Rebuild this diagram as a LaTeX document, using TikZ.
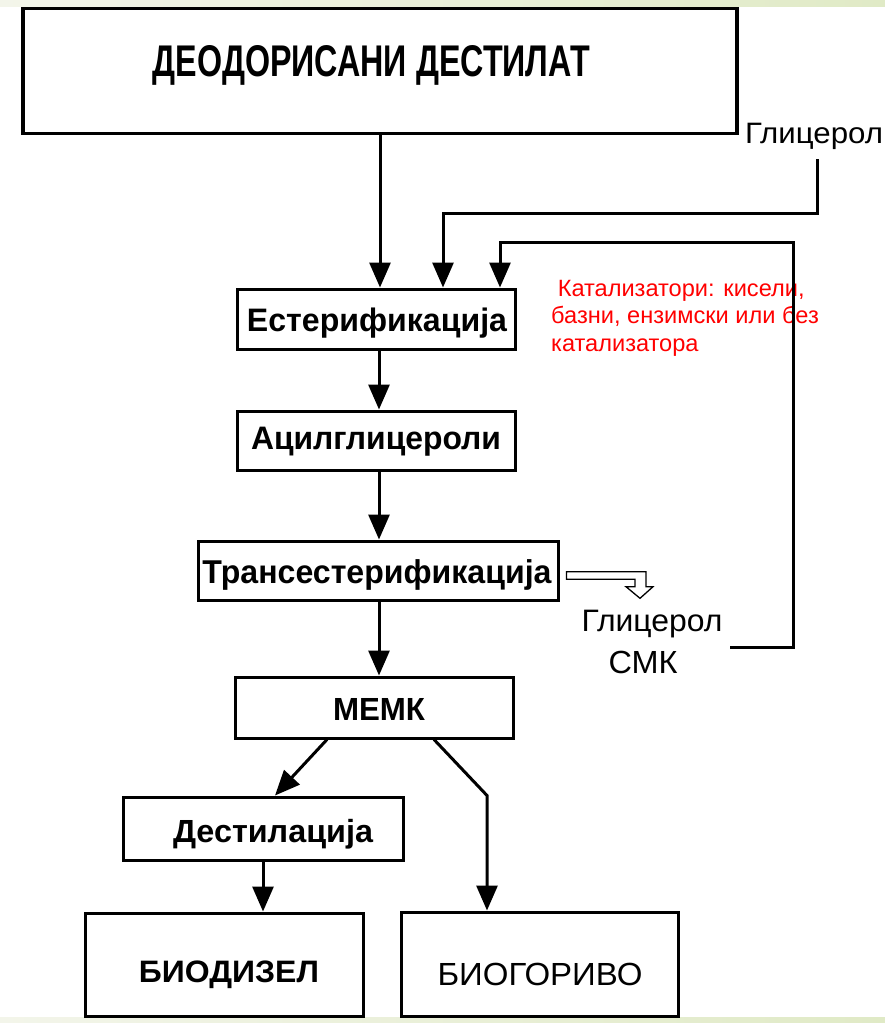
\documentclass[tikz,border=0pt]{standalone}
\usepackage{fontspec}
\setmainfont{Liberation Sans}
\usepackage{graphicx}
\usetikzlibrary{arrows.meta,calc}

\definecolor{bandL}{RGB}{243,245,234}
\definecolor{bandR}{RGB}{224,234,198}
\definecolor{catred}{RGB}{255,0,0}

% set a text to a given width and cap height
\newcommand{\fitto}[3]{\resizebox{#1}{#2}{#3}}
% set a text at a font size, then bring it to a given width
\newcommand{\wfit}[3]{{\fontsize{#2}{#2}\selectfont\resizebox{#1}{\height}{#3}}}

\begin{document}
\begin{tikzpicture}[x=1pt,y=-1pt,
  box/.style={draw=black, line width=3pt, fill=white, rectangle, inner sep=0pt},
  lbl/.style={inner sep=0pt, anchor=base},
  redline/.style={inner sep=0pt, anchor=base west, text=catred,
    font=\fontsize{23.6pt}{28pt}\selectfont},
  arr/.style={line width=3pt, -{Triangle[length=25pt,width=21pt]}},
  feed/.style={line width=3pt},
]
\useasboundingbox (0,0) rectangle (885,1023);
\fill[white] (0,0) rectangle (885,1023);
% decorative bands
\fill[left color=bandL,right color=bandR] (0,0) rectangle (885,6);
\fill[left color=bandL,right color=bandR] (0,1017) rectangle (885,1023);

% process boxes
\node[box, line width=3.5pt, minimum width=714pt, minimum height=125pt] (top) at (380,71) {};
\node[box, minimum width=278pt, minimum height=60pt] (est) at (376,319) {};
\node[box, minimum width=278pt, minimum height=59pt] (acyl) at (376,440.5) {};
\node[box, minimum width=360pt, minimum height=59pt] (trans) at (378,570.5) {};
\node[box, minimum width=278pt, minimum height=61pt] (memk) at (374,707.5) {};
\node[box, minimum width=280pt, minimum height=63pt] (dest) at (263,828.5) {};
\node[box, minimum width=278pt, minimum height=103pt] (biod) at (224,964.5) {};
\node[box, minimum width=277pt, minimum height=104pt] (biog) at (539.5,964) {};

% box texts
\node[lbl] (tTop) at (371.5,76) {\fitto{437pt}{31pt}{\bfseries ДЕОДОРИСАНИ ДЕСТИЛАТ}};
\node[lbl] (tEst) at (377,331) {\wfit{260pt}{32.5pt}{\bfseries Естерификација}};
\node[lbl] (tAcyl) at (376,449) {\wfit{250pt}{32.5pt}{\bfseries Ацилглицероли}};
\node[lbl] (tTrans) at (377,583) {\wfit{349pt}{33pt}{\bfseries Трансестерификација}};
\node[lbl] (tMemk) at (379,720) {\wfit{92pt}{32pt}{\bfseries МЕМК}};
\node[lbl] (tDest) at (273,842) {\wfit{200pt}{32pt}{\bfseries Дестилација}};
\node[lbl] (tBiod) at (229,982) {\wfit{180pt}{31pt}{\bfseries БИОДИЗЕЛ}};
\node[lbl] (tBiog) at (540,985) {\wfit{205pt}{32pt}{БИОГОРИВО}};

% side labels
\node[lbl] (gTop) at (814,143.5) {\wfit{138pt}{29.5pt}{Глицерол}};
\node[lbl] (gLow) at (652,631) {\wfit{141pt}{31pt}{Глицерол}};
\node[lbl] (smk) at (643,673) {\wfit{69pt}{32pt}{СМК}};

% catalyst note
\node[redline] (cat1) at (551,296) {\ Катализатори: кисели,};
\node[redline] (cat2) at (551,323.5) {базни, ензимски или без};
\node[redline] (cat3) at (551,351) {катализатора};

% main flow
\coordinate (spine) at (379,0);
\draw[arr] (top.south) -- (top.south |- est.north);
\draw[arr] (est.south -| spine) -- (acyl.north -| spine);
\draw[arr] (acyl.south -| spine) -- (trans.north -| spine);
\draw[arr] (trans.south -| spine) -- (memk.north -| spine);
\draw[arr] ([xshift=-47pt]memk.south) -- ([xshift=12pt]dest.north);
\draw[arr] ([xshift=60pt]memk.south) -- ([xshift=-52.5pt]biog.north |- dest.north)
  -- ([xshift=-52.5pt]biog.north);
\draw[arr] (dest.south) -- (dest.south |- biod.north);

% glycerol feeds
\coordinate (g1) at (817,159);
\coordinate (g2) at (730,647);
\draw[arr, feed] (g1) -- (817,213) -- (443,213) -- (443,0 |- est.north);
\draw[arr, feed] (g2) -- (793,647) -- (793,242) -- (500,242) -- (500,0 |- est.north);

% hollow outlet arrow from the transesterification step
\draw[line width=1.3pt, fill=white, line join=miter]
  ([xshift=7pt]trans.east |- 0,571.7) -- (646,571.7) -- (646,586.7) -- (653,586.7)
  -- (640,598.3) -- (626,586.7) -- (635,586.7) -- (635,579.3)
  -- ([xshift=7pt]trans.east |- 0,579.3) -- cycle;
\end{tikzpicture}
\end{document}
